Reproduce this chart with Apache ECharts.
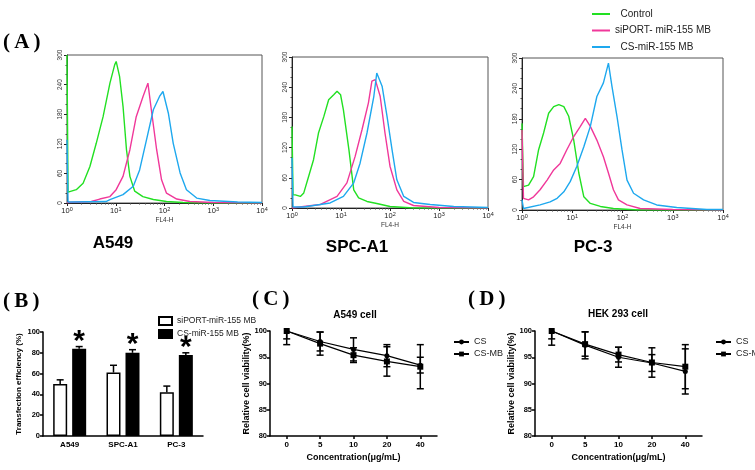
<!DOCTYPE html>
<html>
<head>
<meta charset="utf-8">
<script src="https://cdn.jsdelivr.net/npm/echarts@6/dist/echarts.min.js"></script>
<style>html,body{margin:0;padding:0;background:#fff}#c{width:755px;height:470px}</style>
</head>
<body>
<div id="c"></div>
<script>
// ---------- Panel A: flow cytometry histograms [FL4-H, count] ----------
const histNames = ['  Control', 'siPORT- miR-155 MB', '  CS-miR-155 MB'];
const histColors = ['#22e022', '#f0389a', '#1ea8ee'];
const cellLines = ['A549', 'SPC-A1', 'PC-3'];

const a549Control = [[1,300],[1.05,22],[1.12,20],[1.55,27],[2.14,40],[2.95,74],[3.98,121],[5.5,175],[7.6,243],[9.5,280],[10.2,287],[12,256],[14.1,196],[16.6,108],[19.5,54],[24.5,24],[36,13],[59,7],[110,3],[240,1],[1000,0],[10000,0]];
const a549Siport = [[1,1],[3.16,3],[4.7,8],[7.6,13],[10.2,27],[14.1,54],[19.5,108],[26.3,175],[36.3,216],[45.7,243],[53.7,189],[69,108],[87,47],[110,20],[178,8],[331,3],[1000,1],[10000,0]];
const a549Cs = [[1,128],[1.05,2],[1.26,2],[6.3,3],[7.6,7],[14.1,17],[22.9,34],[30.9,67],[42.7,128],[59,189],[79,216],[93,226],[120,182],[151,121],[209,61],[282,27],[457,10],[851,5],[3162,2],[10000,1]];

const spcControl = [[1,162],[1.05,26],[1.17,26],[1.48,23],[1.74,30],[2.19,63],[2.75,96],[3.47,149],[4.47,182],[5.6,215],[7.1,225],[8.3,232],[9.8,225],[11.2,195],[14.5,116],[18.2,36],[22.9,20],[33.9,13],[53.7,9],[100,3],[300,0],[10000,0]];
const spcSiport = [[1,0],[1.74,3],[3.8,7],[8.3,23],[13.2,50],[19.5,103],[26.9,156],[36.3,209],[42.7,252],[50,255],[63,222],[79,149],[100,83],[138,36],[191,13],[302,5],[1000,1],[10000,0]];
const spcCs = [[1,100],[1.05,2],[1.74,2],[6,10],[11.2,23],[18.2,50],[24.5,89],[33.9,149],[46.8,222],[53.7,268],[69,242],[87,182],[110,116],[138,56],[191,23],[302,11],[661,7],[2000,3],[10000,1]];

const pc3Control = [[1,171],[1.07,46],[1.35,49],[1.7,66],[2.14,119],[2.69,152],[3.39,191],[4.27,204],[5.4,208],[6.8,204],[8.5,185],[10.7,138],[13.5,73],[17,26],[22.9,13],[36.3,7],[66,3],[200,0],[10000,0]];
const pc3Siport = [[1,158],[1.07,23],[1.35,20],[1.7,26],[2.29,40],[3.16,59],[4.27,79],[5.75,92],[7.8,119],[10.7,145],[14.5,165],[18.2,181],[22.9,165],[30.9,138],[41.7,105],[52.5,73],[66,40],[83,20],[123,10],[224,3],[1000,1],[10000,0]];
const pc3Cs = [[1,20],[1.07,3],[2.29,10],[3.63,16],[5,23],[6.8,36],[9.1,56],[12.3,86],[17,125],[22.9,165],[30.9,224],[41.7,251],[52.5,290],[61.7,244],[77.6,185],[97.7,119],[123,59],[166,33],[263,20],[479,10],[1202,5],[4786,1],[10000,1]];

const histData = [[a549Control, a549Siport, a549Cs],[spcControl, spcSiport, spcCs],[pc3Control, pc3Siport, pc3Cs]];

// ---------- Panel B: transfection efficiency ----------
const bCategories = ['A549', 'SPC-A1', 'PC-3'];
const bNames = ['siPORT-miR-155 MB', 'CS-miR-155 MB'];
const bSiport = [50, 61, 42];
const bSiportErr = [4, 7, 6];
const bCs = [84, 80, 78];
const bCsErr = [2, 3, 2];

// ---------- Panels C, D: cell viability ----------
const concentrations = ['0', '5', '10', '20', '40'];
const vNames = ['CS', 'CS-MB'];
const cCs = [100, 98.0, 96.5, 95.3, 93.5];
const cCsErr = [1.5, 1.8, 2.2, 2.1, 1.5];
const cCsMb = [100, 97.6, 95.4, 94.2, 93.2];
const cCsMbErr = [2.6, 2.2, 1.4, 2.8, 4.2];
const dCs = [100, 97.3, 95.0, 93.9, 92.3];
const dCsErr = [1.5, 2.6, 1.9, 1.6, 4.3];
const dCsMb = [100, 97.5, 95.5, 94.0, 93.2];
const dCsMbErr = [2.7, 2.3, 1.4, 2.8, 4.2];

// ---------- build ----------
const FF = '"Liberation Sans", Arial, sans-serif';
const chart = echarts.init(document.getElementById('c'), null, {renderer: 'canvas'});

const grids = [
  {left: 67, top: 55, width: 195, height: 148},
  {left: 292, top: 57, width: 196, height: 151},
  {left: 522, top: 58, width: 201, height: 152},
  {left: 43, top: 332, width: 160, height: 104},
  {left: 270, top: 331, width: 167, height: 105},
  {left: 535, top: 331, width: 167, height: 105}
].map((g, i) => Object.assign({containLabel: false}, g, i < 3 ? {show: true, borderColor: '#555', borderWidth: 1} : {}));

const xAxes = [], yAxes = [], series = [];

for (let i = 0; i < 3; i++) {
  xAxes.push({
    type: 'log', logBase: 10, min: 1, max: 10000, gridIndex: i, splitNumber: 4,
    name: 'FL4-H', nameLocation: 'middle', nameGap: 14,
    nameTextStyle: {fontSize: 6.5, fontFamily: FF, color: '#333'},
    axisLine: {lineStyle: {color: '#222', width: 1}},
    axisTick: {length: 3, lineStyle: {color: '#222'}},
    minorTick: {show: true, splitNumber: 9, length: 1.5, lineStyle: {color: '#444'}},
    splitLine: {show: false}, minorSplitLine: {show: false},
    axisLabel: {
      margin: 3,
      formatter: v => '{b|10}{s|' + Math.round(Math.log10(v)) + '}',
      rich: {
        b: {fontSize: 7.5, fontFamily: FF, color: '#222', lineHeight: 10},
        s: {fontSize: 5.5, fontFamily: FF, color: '#222', verticalAlign: 'top', lineHeight: 6}
      }
    }
  });
  yAxes.push({
    type: 'value', min: 0, max: 300, interval: 60, gridIndex: i,
    axisLine: {show: true, lineStyle: {color: '#222'}},
    axisTick: {show: true, length: 3, lineStyle: {color: '#222'}},
    minorTick: {show: true, splitNumber: 3, length: 1.5, lineStyle: {color: '#444'}},
    splitLine: {show: false},
    axisLabel: {rotate: 90, fontSize: 6.5, fontFamily: FF, color: '#333', margin: 3}
  });
  for (let k = 0; k < 3; k++) {
    series.push({
      type: 'line', name: histNames[k], xAxisIndex: i, yAxisIndex: i,
      data: histData[i][k], showSymbol: false, symbol: 'none',
      lineStyle: {color: histColors[k], width: 1.4},
      itemStyle: {color: histColors[k]},
      animation: false, z: 2 + k
    });
  }
}

// Panel B axes
xAxes.push({
  type: 'category', data: bCategories, gridIndex: 3,
  axisLine: {lineStyle: {color: '#000', width: 1.5}},
  axisTick: {show: false},
  axisLabel: {fontSize: 8, fontWeight: 'bold', fontFamily: FF, color: '#000', margin: 5}
});
yAxes.push({
  type: 'value', min: 0, max: 100, interval: 20, gridIndex: 3,
  name: 'Transfection efficiency (%)', nameLocation: 'middle', nameGap: 20,
  nameTextStyle: {fontSize: 8, fontWeight: 'bold', fontFamily: FF, color: '#000'},
  axisLine: {show: true, lineStyle: {color: '#000', width: 1.5}},
  axisTick: {show: true, length: 3, lineStyle: {color: '#000', width: 1.5}},
  splitLine: {show: false},
  axisLabel: {fontSize: 7.5, fontWeight: 'bold', fontFamily: FF, color: '#000', margin: 3}
});
const BAR_W = 14, BAR_GAP = 5;
series.push({
  type: 'bar', name: bNames[0], xAxisIndex: 3, yAxisIndex: 3, data: bSiport,
  barWidth: BAR_W, barGap: (BAR_GAP / BAR_W * 100) + '%',
  itemStyle: {color: '#fff', borderColor: '#000', borderWidth: 1.5}, animation: false
});
series.push({
  type: 'bar', name: bNames[1], xAxisIndex: 3, yAxisIndex: 3, data: bCs,
  barWidth: BAR_W,
  itemStyle: {color: '#000', borderColor: '#000', borderWidth: 1.5}, animation: false
});
function barErr(vals, errs, side) {
  return {
    type: 'custom', xAxisIndex: 3, yAxisIndex: 3, animation: false, z: 5,
    data: vals.map((v, j) => [j, v, v + errs[j]]),
    renderItem: (params, api) => {
      const p0 = api.coord([api.value(0), api.value(1)]);
      const p1 = api.coord([api.value(0), api.value(2)]);
      const cx = p0[0] + side * (BAR_W + BAR_GAP) / 2;
      const ls = {stroke: '#000', lineWidth: 1.5};
      return {type: 'group', children: [
        {type: 'line', shape: {x1: cx, y1: p0[1], x2: cx, y2: p1[1]}, style: ls},
        {type: 'line', shape: {x1: cx - 3.5, y1: p1[1], x2: cx + 3.5, y2: p1[1]}, style: ls}
      ]};
    }
  };
}
series.push(barErr(bSiport, bSiportErr, -1));
series.push(barErr(bCs, bCsErr, 1));
// asterisks above CS bars
series.push({
  type: 'custom', xAxisIndex: 3, yAxisIndex: 3, animation: false, z: 6,
  data: bCs.map((v, j) => [j, v + bCsErr[j]]),
  renderItem: (params, api) => {
    const p = api.coord([api.value(0), api.value(1)]);
    return {type: 'text', x: p[0] + (BAR_W + BAR_GAP) / 2, y: p[1] + 10,
      style: {text: '*', font: 'bold 30px ' + FF, fill: '#000', align: 'center', verticalAlign: 'bottom'}};
  }
});

// Panels C & D
function viabilityPanel(gi, csVals, csErr, mbVals, mbErr) {
  xAxes.push({
    type: 'category', data: concentrations, gridIndex: gi, boundaryGap: true,
    name: 'Concentration(μg/mL)', nameLocation: 'middle', nameGap: 17,
    nameTextStyle: {fontSize: 9, fontWeight: 'bold', fontFamily: FF, color: '#000'},
    axisLine: {lineStyle: {color: '#000', width: 1.5}},
    axisTick: {show: true, alignWithLabel: true, length: 3, lineStyle: {color: '#000', width: 1.5}},
    axisLabel: {fontSize: 8, fontWeight: 'bold', fontFamily: FF, color: '#000', margin: 5}
  });
  yAxes.push({
    type: 'value', min: 80, max: 100, interval: 5, gridIndex: gi,
    name: 'Relative cell viability(%)', nameLocation: 'middle', nameGap: 19,
    nameTextStyle: {fontSize: 9, fontWeight: 'bold', fontFamily: FF, color: '#000'},
    axisLine: {show: true, lineStyle: {color: '#000', width: 1.5}},
    axisTick: {show: true, length: 3, lineStyle: {color: '#000', width: 1.5}},
    splitLine: {show: false},
    axisLabel: {fontSize: 7.5, fontWeight: 'bold', fontFamily: FF, color: '#000', margin: 3}
  });
  const sets = [[vNames[0], csVals, csErr, 'circle', 5], [vNames[1], mbVals, mbErr, 'rect', 6]];
  sets.forEach(([name, vals, errs, sym, size]) => {
    series.push({
      type: 'line', name, xAxisIndex: gi, yAxisIndex: gi, data: vals,
      symbol: sym, symbolSize: size, showSymbol: true,
      lineStyle: {color: '#000', width: 1.2}, itemStyle: {color: '#000'}, animation: false, z: 4
    });
    series.push({
      type: 'custom', xAxisIndex: gi, yAxisIndex: gi, animation: false, clip: true, z: 5,
      data: vals.map((v, j) => [j, v - errs[j], v + errs[j]]),
      renderItem: (params, api) => {
        const lo = api.coord([api.value(0), api.value(1)]);
        const hi = api.coord([api.value(0), api.value(2)]);
        const cx = lo[0];
        const ls = {stroke: '#000', lineWidth: 1.5};
        return {type: 'group', children: [
          {type: 'line', shape: {x1: cx, y1: lo[1], x2: cx, y2: hi[1]}, style: ls},
          {type: 'line', shape: {x1: cx - 3.5, y1: lo[1], x2: cx + 3.5, y2: lo[1]}, style: ls},
          {type: 'line', shape: {x1: cx - 3.5, y1: hi[1], x2: cx + 3.5, y2: hi[1]}, style: ls}
        ]};
      }
    });
  });
}
viabilityPanel(4, cCs, cCsErr, cCsMb, cCsMbErr);
viabilityPanel(5, dCs, dCsErr, dCsMb, dCsMbErr);

const serif = 'bold 21px "Liberation Serif", "Times New Roman", serif';
const txt = (text, x, y, font, align) => ({type: 'text', x, y,
  style: {text, font, fill: '#000', align: align || 'center', verticalAlign: 'middle'}});

chart.setOption({
  backgroundColor: '#fff',
  animation: false,
  grid: grids,
  xAxis: xAxes,
  yAxis: yAxes,
  series,
  legend: [
    {data: histNames, left: 587, top: 3, orient: 'vertical', icon: 'rect', itemWidth: 18, itemHeight: 2,
      itemGap: 4.5, selectedMode: false,
      textStyle: {fontSize: 10, fontFamily: FF, color: '#222', lineHeight: 12}},
    {data: bNames, left: 153, top: 311, orient: 'vertical', icon: 'rect', itemWidth: 13, itemHeight: 8,
      itemGap: 3, selectedMode: false,
      textStyle: {fontSize: 8.5, fontFamily: FF, color: '#222', lineHeight: 10}},
    {data: vNames, left: 448, top: 332, orient: 'vertical', itemWidth: 15, itemHeight: 6, itemGap: 2,
      selectedMode: false, textStyle: {fontSize: 9, fontFamily: FF, color: '#222', lineHeight: 10}},
    {data: vNames, left: 710, top: 332, orient: 'vertical', itemWidth: 15, itemHeight: 6, itemGap: 2,
      selectedMode: false, textStyle: {fontSize: 9, fontFamily: FF, color: '#222', lineHeight: 10}}
  ],
  graphic: [
    txt('(\u2009A\u2009)', 3, 43, serif, 'left'),
    txt('(\u2009B\u2009)', 3, 302, serif, 'left'),
    txt('(\u2009C\u2009)', 252, 300, serif, 'left'),
    txt('(\u2009D\u2009)', 468, 300, serif, 'left'),
    txt(cellLines[0], 113, 243, 'bold 17px ' + FF),
    txt(cellLines[1], 357, 247, 'bold 17px ' + FF),
    txt(cellLines[2], 593, 247, 'bold 17px ' + FF),
    txt('A549 cell', 355, 315, 'bold 10px ' + FF),
    txt('HEK 293 cell', 618, 314, 'bold 10px ' + FF)
  ]
});
</script>
</body>
</html>
